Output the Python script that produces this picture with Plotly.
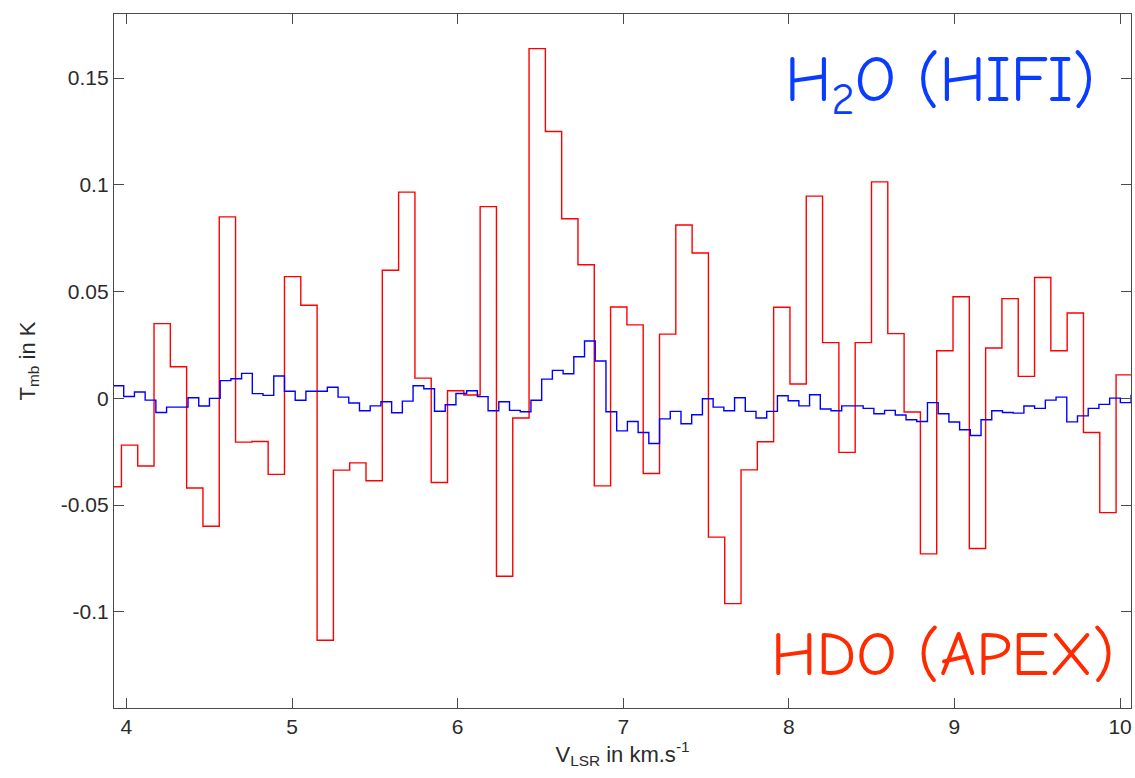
import plotly.graph_objects as go

# ---- HDO (APEX) spectrum: channel left edges (km/s) and Tmb (K)
hdo_v = [3.8713, 3.9698, 4.0683, 4.1667, 4.2652, 4.3636, 4.4621, 4.5606, 4.6590, 4.7575,
         4.8559, 4.9544, 5.0529, 5.1513, 5.2498, 5.3482, 5.4467, 5.5452, 5.6436, 5.7421,
         5.8405, 5.9390, 6.0375, 6.1359, 6.2344, 6.3328, 6.4313, 6.5298, 6.6282, 6.7267,
         6.8251, 6.9236, 7.0221, 7.1205, 7.2190, 7.3174, 7.4159, 7.5144, 7.6128, 7.7113,
         7.8097, 7.9082, 8.0067, 8.1051, 8.2036, 8.3020, 8.4005, 8.4990, 8.5974, 8.6959,
         8.7943, 8.8928, 8.9913, 9.0897, 9.1882, 9.2866, 9.3851, 9.4836, 9.5820, 9.6805,
         9.7789, 9.8774, 9.9759]
hdo_t = [-0.0414, -0.0219, -0.0317, 0.0350, 0.0148, -0.0420, -0.0599, 0.0850, -0.0205, -0.0202,
         -0.0356, 0.0570, 0.0436, -0.1133, -0.0336, -0.0302, -0.0386, 0.0600, 0.0966, 0.0095,
         -0.0394, 0.0036, 0.0016, 0.0898, -0.0833, -0.0092, 0.1638, 0.1250, 0.0841, 0.0626,
         -0.0410, 0.0428, 0.0344, -0.0352, 0.0301, 0.0812, 0.0681, -0.0650, -0.0961, -0.0335,
         -0.0203, 0.0427, 0.0067, 0.0947, 0.0261, -0.0253, 0.0261, 0.1014, 0.0303, -0.0064,
         -0.0728, 0.0223, 0.0476, -0.0703, 0.0236, 0.0467, 0.0103, 0.0566, 0.0223, 0.0400,
         -0.0160, -0.0535, 0.0110]

# ---- H2O (HIFI) spectrum: channel left edges (km/s) and Tmb (K)
h2o_v = [3.9190, 3.9837, 4.0484, 4.1131, 4.1778, 4.2425, 4.3073, 4.3720, 4.4367, 4.5014,
         4.5661, 4.6308, 4.6955, 4.7602, 4.8249, 4.8896, 4.9544, 5.0191, 5.0838, 5.1485,
         5.2132, 5.2779, 5.3426, 5.4073, 5.4720, 5.5367, 5.6015, 5.6662, 5.7309, 5.7956,
         5.8603, 5.9250, 5.9897, 6.0544, 6.1191, 6.1838, 6.2486, 6.3133, 6.3780, 6.4427,
         6.5074, 6.5721, 6.6368, 6.7015, 6.7662, 6.8309, 6.8957, 6.9604, 7.0251, 7.0898,
         7.1545, 7.2192, 7.2839, 7.3486, 7.4133, 7.4780, 7.5428, 7.6075, 7.6722, 7.7369,
         7.8016, 7.8663, 7.9310, 7.9957, 8.0604, 8.1251, 8.1899, 8.2546, 8.3193, 8.3840,
         8.4487, 8.5134, 8.5781, 8.6428, 8.7075, 8.7722, 8.8370, 8.9017, 8.9664, 9.0311,
         9.0958, 9.1605, 9.2252, 9.2899, 9.3546, 9.4193, 9.4841, 9.5488, 9.6135, 9.6782,
         9.7429, 9.8076, 9.8723, 9.9370, 10.0017, 10.0664]
h2o_t = [0.0059, 0.0009, 0.0030, -0.0008, -0.0066, -0.0041, -0.0041, 0.0003, -0.0036, 0.0000,
         0.0083, 0.0092, 0.0117, 0.0022, 0.0014, 0.0105, 0.0033, -0.0009, 0.0033, 0.0033,
         0.0052, 0.0006, -0.0022, -0.0058, -0.0035, -0.0016, -0.0067, -0.0013, 0.0059, 0.0045,
         -0.0060, -0.0030, 0.0023, 0.0036, 0.0008, -0.0058, -0.0016, -0.0056, -0.0063, -0.0009,
         0.0090, 0.0131, 0.0115, 0.0195, 0.0269, 0.0175, -0.0063, -0.0152, -0.0108, -0.0160,
         -0.0211, -0.0096, -0.0061, -0.0119, -0.0077, -0.0002, -0.0041, -0.0058, 0.0003, -0.0061,
         -0.0092, -0.0061, 0.0012, -0.0011, -0.0035, 0.0017, -0.0050, -0.0058, -0.0035, -0.0035,
         -0.0047, -0.0072, -0.0056, -0.0078, -0.0100, -0.0108, -0.0020, -0.0072, -0.0111, -0.0147,
         -0.0174, -0.0100, -0.0058, -0.0066, -0.0069, -0.0036, -0.0047, -0.0008, 0.0006, -0.0110,
         -0.0082, -0.0047, -0.0028, 0.0001, -0.0020, 0.0014]

x_ticks = [4, 5, 6, 7, 8, 9, 10]
y_ticks = [-0.1, -0.05, 0, 0.05, 0.1, 0.15]
y_tick_text = ["-0.1", "-0.05", "0", "0.05", "0.1", "0.15"]


def steps(edges, vals):
    # close the last channel with its right edge so the histogram step is complete
    x = list(edges) + [edges[-1] + (edges[-1] - edges[-2])]
    y = list(vals) + [vals[-1]]
    return x, y


fig = go.Figure()
hx, hy = steps(hdo_v, hdo_t)
wx, wy = steps(h2o_v, h2o_t)
fig.add_trace(go.Scatter(x=hx, y=hy, mode="lines", line=dict(color="#ff0000", width=1.4, shape="hv"),
                         showlegend=False, hoverinfo="skip"))
fig.add_trace(go.Scatter(x=wx, y=wy, mode="lines", line=dict(color="#0000ff", width=1.4, shape="hv"),
                         showlegend=False, hoverinfo="skip"))

FONT = "Liberation Sans, Arial, sans-serif"
axis_common = dict(showline=True, linecolor="#4a4a4a", linewidth=1.3, mirror="ticks",
                   ticks="inside", ticklen=10, tickwidth=1.2, tickcolor="#4a4a4a",
                   showgrid=False, zeroline=False, automargin=False,
                   tickfont=dict(family=FONT, size=21, color="#2b2b2b"))

fig.update_layout(
    width=1135, height=778,
    margin=dict(l=114, r=4, t=14, b=70),
    paper_bgcolor="white", plot_bgcolor="white",
    xaxis=dict(range=[3.925, 10.066], tickvals=x_ticks, **axis_common,
               title=dict(text="V<sub>LSR</sub> in km.s<sup>-1</sup>", standoff=8,
                          font=dict(family=FONT, size=22, color="#2b2b2b"))),
    yaxis=dict(range=[-0.145, 0.18], tickvals=y_ticks, ticktext=y_tick_text, **axis_common,
               title=dict(text="T<sub>mb</sub> in K", standoff=19,
                          font=dict(family=FONT, size=22, color="#2b2b2b"))),
    annotations=[
        dict(x=8.913, y=0.1470, xref="x", yref="y", xanchor="center", yanchor="middle",
             text="H<sub>2</sub>O (HIFI)", showarrow=False,
             font=dict(family="Comic Sans MS, Comic Neue, Lato, sans-serif", size=64, color="#0a3cff")),
        dict(x=8.93, y=-0.1199, xref="x", yref="y", xanchor="center", yanchor="middle",
             text="HDO (APEX)", showarrow=False,
             font=dict(family="Comic Sans MS, Comic Neue, Lato, sans-serif", size=63, color="#ff2a00")),
    ],
)

fig.write_html("out.html", config={"displayModeBar": False},
               post_script="document.body.style.margin='0';document.body.style.overflow='hidden';")
